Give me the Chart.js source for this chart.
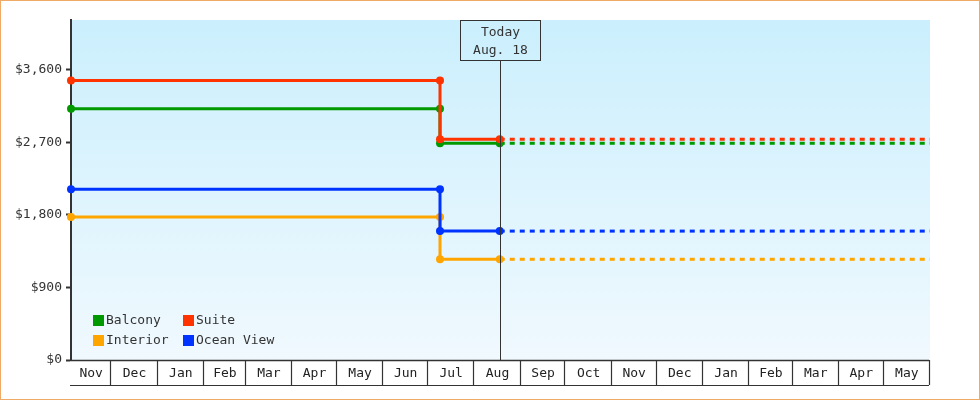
<!DOCTYPE html>
<html><head><meta charset="utf-8">
<script src="https://cdn.jsdelivr.net/npm/chart.js@4/dist/chart.umd.min.js"></script>
<style>html,body{margin:0;padding:0;background:#fff}#wrap{width:980px;height:400px;position:relative}</style>
</head><body><div id="wrap"><canvas id="c" width="980" height="400"></canvas></div>
<script>
// ---- data ----
const rangeStart = '2014-11-04';
const rangeEnd = '2016-06-01';
const todayDate = '2015-08-18';
const todayLabel = ['Today', 'Aug. 18'];
const pointDates = ['2014-11-04', '2015-07-09', '2015-07-09', '2015-08-18'];
const balcony = [3120, 3120, 2690, 2690];
const suite = [3470, 3470, 2740, 2740];
const interior = [1775, 1775, 1250, 1250];
const oceanView = [2120, 2120, 1600, 1600];
const seriesNames = ['Balcony', 'Suite', 'Interior', 'Ocean View'];
const seriesColors = ['#009900', '#ff3300', '#ffa500', '#0033ff'];
const monthLabels = ['Nov','Dec','Jan','Feb','Mar','Apr','May','Jun','Jul','Aug','Sep','Oct','Nov','Dec','Jan','Feb','Mar','Apr','May'];
const monthStarts = ['2014-11-01','2014-12-01','2015-01-01','2015-02-01','2015-03-01','2015-04-01','2015-05-01','2015-06-01','2015-07-01','2015-08-01','2015-09-01','2015-10-01','2015-11-01','2015-12-01','2016-01-01','2016-02-01','2016-03-01','2016-04-01','2016-05-01','2016-06-01'];
const yTicks = [0, 900, 1800, 2700, 3600];
const yMax = 4220;

const FONT = '13px "DejaVu Sans Mono", monospace';
function utc(s){ const p=s.split('-').map(Number); return Date.UTC(p[0],p[1]-1,p[2]); }
function dayOf(s){ return Math.round((utc(s) - utc(rangeStart))/86400000); }
const xMax = dayOf(rangeEnd);
const xToday = dayOf(todayDate);

const allSeries = [balcony, suite, interior, oceanView];
const datasets = [];
allSeries.forEach((vals, i) => {
  datasets.push({
    label: seriesNames[i],
    data: vals.map((v, j) => ({x: dayOf(pointDates[j]), y: v})),
    borderColor: seriesColors[i], backgroundColor: seriesColors[i],
    borderWidth: 3, pointRadius: 4, pointHoverRadius: 4, pointBorderWidth: 0,
    tension: 0, clip: false, order: 10 - i
  });
});
allSeries.forEach((vals, i) => {
  const last = vals[vals.length - 1];
  datasets.push({
    label: seriesNames[i] + ' projection',
    data: [{x: xToday, y: last}, {x: xMax, y: last}],
    borderColor: seriesColors[i], backgroundColor: seriesColors[i],
    borderWidth: 3, borderDash: [5, 5], pointRadius: 0, tension: 0, clip: false, order: 20 - i
  });
});

const decor = {
  id: 'decor',
  beforeDraw(chart) {
    const {ctx, chartArea: a} = chart;
    ctx.save();
    ctx.fillStyle = '#fff';
    ctx.fillRect(0, 0, chart.width, chart.height);
    const g = ctx.createLinearGradient(0, a.top, 0, a.bottom);
    g.addColorStop(0, '#cbeffd');
    g.addColorStop(1, '#f0f9fe');
    ctx.fillStyle = g;
    ctx.fillRect(a.left, a.top, a.right - a.left, a.bottom - a.top);
    ctx.restore();
  },
  afterDatasetsDraw(chart) {
    const {ctx, chartArea: a, scales: {x}} = chart;
    ctx.save();
    // today line and box
    const tx = Math.round(x.getPixelForValue(xToday)) + 0.5;
    ctx.strokeStyle = '#333'; ctx.lineWidth = 1;
    ctx.beginPath(); ctx.moveTo(tx, a.top + 40); ctx.lineTo(tx, a.bottom); ctx.stroke();
    ctx.strokeRect(tx - 40, a.top + 0.5, 80, 40);
    ctx.fillStyle = '#333'; ctx.font = FONT; ctx.textAlign = 'center'; ctx.textBaseline = 'middle';
    ctx.fillText(todayLabel[0], tx, a.top + 13);
    ctx.fillText(todayLabel[1], tx, a.top + 31);
    // month boxes
    const yb = a.bottom + 25;
    ctx.strokeStyle = '#333';
    ctx.lineWidth = 1.5;
    ctx.beginPath(); ctx.moveTo(a.left - 1, a.bottom + 0.5); ctx.lineTo(a.right - 1, a.bottom + 0.5); ctx.stroke();
    ctx.lineWidth = 1.2;
    ctx.beginPath(); ctx.moveTo(a.left - 1, yb + 0.5); ctx.lineTo(a.right - 1, yb + 0.5); ctx.stroke();
    for (let i = 0; i < monthLabels.length; i++) {
      const s = Math.max(0, dayOf(monthStarts[i]));
      const e = Math.min(xMax, dayOf(monthStarts[i + 1]));
      const px0 = x.getPixelForValue(s), px1 = x.getPixelForValue(e);
      const bx = Math.round(px1) - 0.5;
      ctx.beginPath(); ctx.moveTo(bx, a.bottom); ctx.lineTo(bx, yb); ctx.stroke();
      ctx.fillStyle = '#222';
      ctx.fillText(monthLabels[i], (px0 + px1) / 2, a.bottom + 14);
    }
    // legend
    ctx.textAlign = 'left';
    const cols = [93, 183], rows = [320, 340];
    seriesNames.forEach((n, i) => {
      const lx = cols[i % 2], ly = rows[Math.floor(i / 2)];
      ctx.fillStyle = seriesColors[i];
      ctx.fillRect(lx, ly - 5, 11, 11);
      ctx.fillStyle = '#333';
      ctx.fillText(n, lx + 13, ly + 1);
    });
    // border
    ctx.strokeStyle = '#eeaa66'; ctx.lineWidth = 1;
    ctx.strokeRect(0.5, 0.5, chart.width - 1, chart.height - 1);
    ctx.restore();
  }
};

new Chart(document.getElementById('c'), {
  type: 'line',
  data: {datasets},
  options: {
    responsive: false, animation: false, devicePixelRatio: 1,
    layout: {padding: {left: 0, top: 20, right: 50, bottom: 40}},
    plugins: {legend: {display: false}, tooltip: {enabled: false}},
    scales: {
      x: {type: 'linear', min: 0, max: xMax, display: false},
      y: {
        min: 0, max: yMax,
        afterFit(s) { s.width = 71; },
        afterBuildTicks(s) { s.ticks = yTicks.map(v => ({value: v})); },
        grid: {drawOnChartArea: false, drawTicks: true, tickLength: 5, tickColor: '#333', tickWidth: 2},
        border: {display: true, color: '#333', width: 2},
        ticks: {padding: 4, color: '#333', font: {family: '"DejaVu Sans Mono"', size: 13},
          callback: v => '$' + Number(v).toLocaleString('en-US')}
      }
    }
  },
  plugins: [decor]
});
</script></body></html>
